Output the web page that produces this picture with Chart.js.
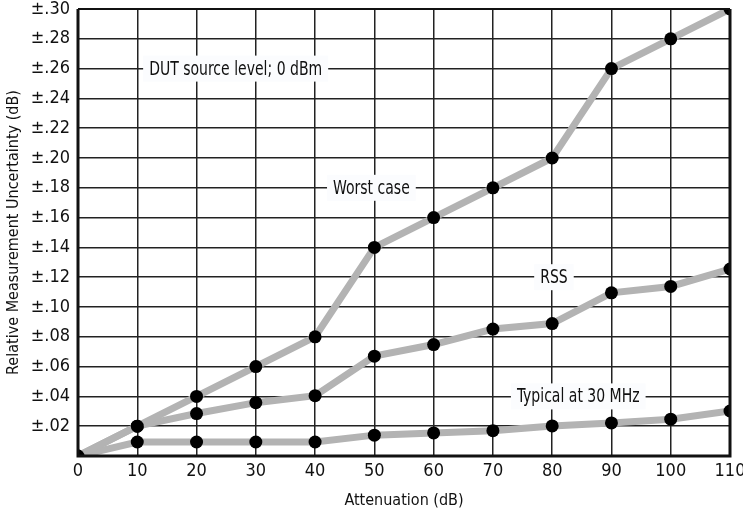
<!DOCTYPE html>
<html><head><meta charset="utf-8">
<script src="https://cdn.jsdelivr.net/npm/chart.js@4.4.1/dist/chart.umd.min.js"></script>
<style>html,body{margin:0;padding:0;background:#fff}#wrap{width:743px;height:514px}</style>
</head><body><div id="wrap"><canvas id="c" width="743" height="514"></canvas></div>
<script>
const attenuation = [0,10,20,30,40,50,60,70,80,90,100,110];
const worstCase = [0,0.020,0.040,0.060,0.080,0.140,0.160,0.180,0.200,0.260,0.280,0.300];
const rss = [0,0.020,0.0285,0.0358,0.0405,0.067,0.0748,0.0852,0.0889,0.1095,0.1138,0.1255];
const typical30MHz = [0,0.0094,0.0094,0.0094,0.0094,0.0140,0.0155,0.0170,0.0202,0.0222,0.0247,0.0302];
const yTickLabels = {0.02:'±.02',0.04:'±.04',0.06:'±.06',0.08:'±.08',0.10:'±.10',0.12:'±.12',0.14:'±.14',0.16:'±.16',0.18:'±.18',0.20:'±.20',0.22:'±.22',0.24:'±.24',0.26:'±.26',0.28:'±.28',0.30:'±.30'};
const annotations = [
  {text:'DUT source level; 0 dBm', x:26.6, y:0.26},
  {text:'Worst case', x:49.5, y:0.18},
  {text:'RSS', x:80.3, y:0.12},
  {text:'Typical at 30 MHz', x:84.4, y:0.04}
];
const FONT = "'DejaVu Sans Condensed','Liberation Sans Narrow',sans-serif";

function pts(arr){return attenuation.map((x,i)=>({x:x,y:arr[i]}));}
function ds(label,arr){return {label:label,data:pts(arr),borderColor:'#b3b3b3',borderWidth:7,pointRadius:6.5,pointHoverRadius:6.5,pointBackgroundColor:'#000',pointBorderWidth:0,tension:0,clip:0};}

const labelPlugin = {
  id:'labels',
  afterDatasetsDraw(chart){
    const ctx=chart.ctx, xs=chart.scales.x, ys=chart.scales.y;
    const sx=0.82;
    annotations.forEach(a=>{
      const px=xs.getPixelForValue(a.x), py=ys.getPixelForValue(a.y);
      ctx.save();
      ctx.font='19px '+FONT;
      ctx.textAlign='center'; ctx.textBaseline='middle';
      const w=ctx.measureText(a.text).width*sx+12;
      ctx.fillStyle='#fbfcfe';
      ctx.fillRect(px-w/2,py-13,w,26);
      ctx.fillStyle='#111';
      ctx.translate(px,py+1);
      ctx.scale(sx,1);
      ctx.fillText(a.text,0,0);
      ctx.restore();
    });
  }
};
const borderPlugin = {
  id:'border',
  afterDraw(chart){
    const a=chart.chartArea, ctx=chart.ctx;
    ctx.save(); ctx.strokeStyle='#111';
    ctx.lineWidth=3;
    ctx.beginPath();
    ctx.moveTo(a.left,a.top); ctx.lineTo(a.left,a.bottom); ctx.lineTo(a.right,a.bottom); ctx.lineTo(a.right,a.top);
    ctx.stroke();
    ctx.lineWidth=2;
    ctx.beginPath(); ctx.moveTo(a.left,a.top); ctx.lineTo(a.right,a.top); ctx.stroke();
    ctx.restore();
  }
};

new Chart(document.getElementById('c'),{
  type:'line',
  data:{datasets:[ds('Worst case',worstCase),ds('RSS',rss),ds('Typical at 30 MHz',typical30MHz)]},
  options:{
    responsive:false,animation:false,
    layout:{padding:{left:0,right:0,top:0,bottom:0}},
    plugins:{legend:{display:false},tooltip:{enabled:false}},
    scales:{
      x:{type:'linear',min:0,max:110,
        afterFit(s){s.height=58;s.paddingRight=13;s.paddingLeft=0;},
        ticks:{stepSize:10,color:'#111',font:{family:FONT,size:18},padding:5,maxRotation:0},
        grid:{color:'#222',lineWidth:1.5,drawTicks:false},
        border:{display:false},
        title:{display:true,text:'Attenuation (dB)',color:'#111',font:{family:FONT,size:16},padding:{top:1}}
      },
      y:{type:'linear',min:0,max:0.30,
        afterFit(s){s.width=78;s.paddingTop=9;s.paddingBottom=0;},
        ticks:{stepSize:0.02,color:'#111',font:{family:FONT,size:18},padding:8,
          callback:(v)=>{const k=Math.round(v*100)/100;return yTickLabels[k]||'';}},
        grid:{color:'#222',lineWidth:1.5,drawTicks:false},
        border:{display:false},
        title:{display:true,text:'Relative Measurement Uncertainty (dB)',color:'#111',font:{family:FONT,size:16},padding:{bottom:2}}
      }
    }
  },
  plugins:[labelPlugin,borderPlugin]
});
</script></body></html>
